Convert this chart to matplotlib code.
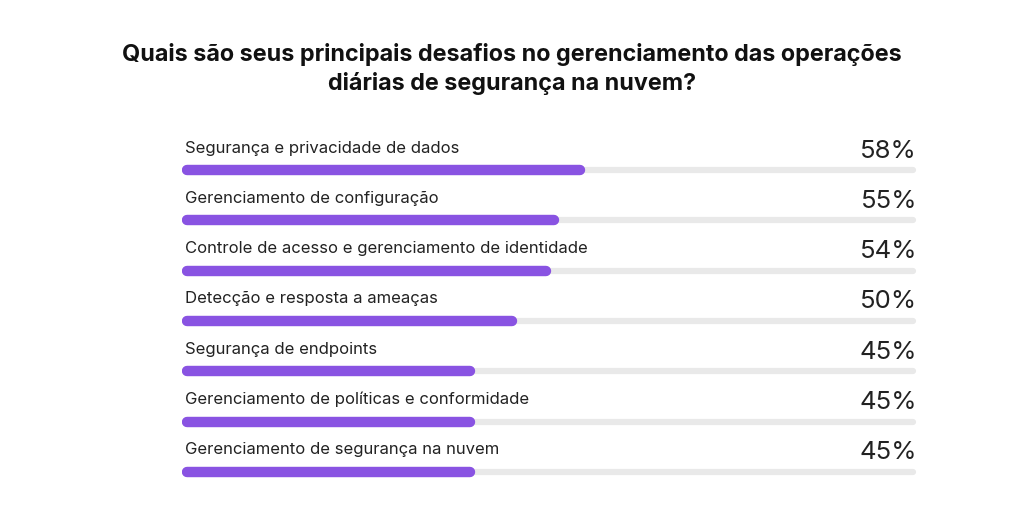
import matplotlib.pyplot as plt

categorias = [
    "Segurança e privacidade de dados",
    "Gerenciamento de configuração",
    "Controle de acesso e gerenciamento de identidade",
    "Detecção e resposta a ameaças",
    "Segurança de endpoints",
    "Gerenciamento de políticas e conformidade",
    "Gerenciamento de segurança na nuvem",
]
valores = [58, 55, 54, 50, 45, 45, 45]
rotulos = ["58%", "55%", "54%", "50%", "45%", "45%", "45%"]

titulo = ("Quais são seus principais desafios no gerenciamento das operações\n"
          "diárias de segurança na nuvem?")

roxo = "#8953e2"
cinza = "#e9e9e9"
texto = "#222222"

plt.rcParams['font.family'] = ['Inter', 'DejaVu Sans']

fig = plt.figure(figsize=(10.24, 5.12), dpi=100)
fig.patch.set_facecolor("white")

fig.text(0.5, 1 - 69 / 512, titulo, ha="center", va="center",
         fontsize=16.8, fontweight="bold", color="#111111", linespacing=1.3)

# eixo posicionado na area das barras
ax = fig.add_axes([182 / 1024, 1 - 490 / 512, (917 - 182) / 1024, 360 / 512])
x0, x1 = 10.99, 97.87
ax.set_xlim(x0, x1)
ax.set_ylim(6.36, -0.795)
ax.axis("off")

inicio = 11.6
for i, (cat, v, r) in enumerate(zip(categorias, valores, rotulos)):
    # trilho cinza
    ax.plot([inicio, 97.4], [i, i], color=cinza, lw=4.5,
            solid_capstyle="round", zorder=1)
    # barra roxa
    ax.plot([inicio, v], [i, i], color=roxo, lw=7.5,
            solid_capstyle="round", zorder=2)
    ax.annotate(cat, (x0, i), xytext=(3, 22), textcoords="offset pixels",
                ha="left", va="center", fontsize=12, color=texto)
    ax.annotate(r, (x1, i), xytext=(0, 19), textcoords="offset pixels",
                ha="right", va="center", fontsize=18.5, color=texto)

fig.savefig("out.png", dpi=100, facecolor="white")
